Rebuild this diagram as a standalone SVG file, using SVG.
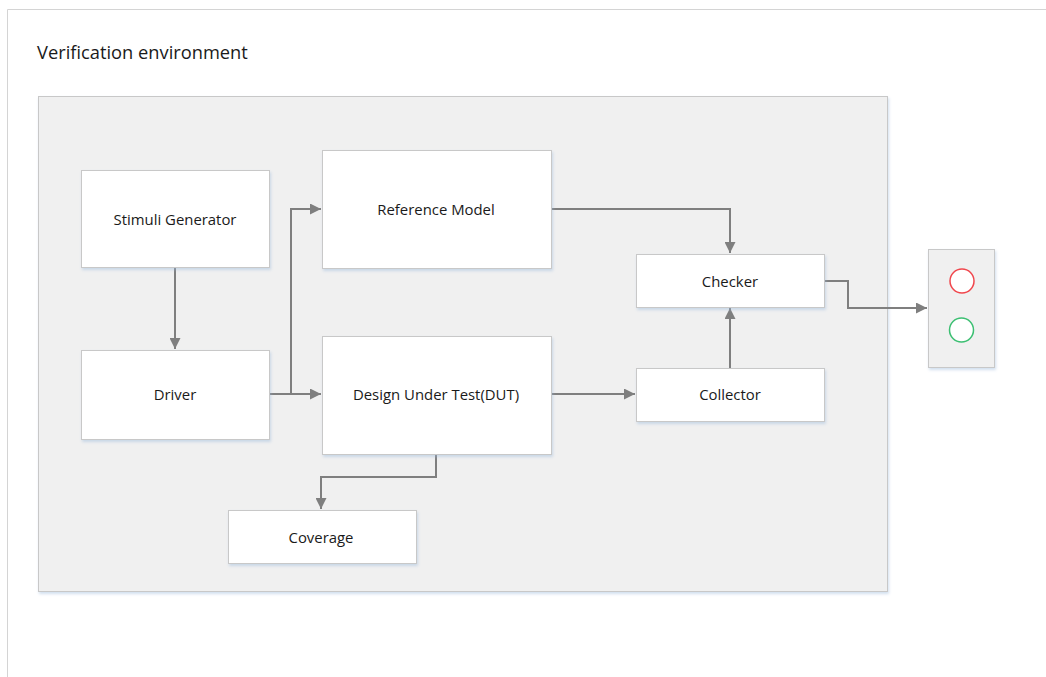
<svg xmlns="http://www.w3.org/2000/svg" width="1046" height="677" viewBox="0 0 1046 677">
  <style>
    .frame { fill: none; stroke: #d4d4d4; stroke-width: 1; }
    .env { fill: #f0f0f0; stroke: #c8c8c8; stroke-width: 1; filter: url(#shadow); }
    .box { fill: #ffffff; stroke: #c8c8c8; stroke-width: 1; filter: url(#shadow); }
    .lbl { font-family: "Open Sans", "Liberation Sans", sans-serif; font-size: 14.9px; fill: #1a1a1a; text-anchor: middle; dominant-baseline: central; }
    .title { font-family: "Open Sans", "Liberation Sans", sans-serif; font-size: 18.3px; fill: #1a1a1a; }
    .arrow { fill: none; stroke: #7f7f7f; stroke-width: 2; marker-end: url(#head); }
  </style>
  <defs>
    <filter id="shadow" x="-10%" y="-10%" width="120%" height="130%">
      <feDropShadow dx="1" dy="2" stdDeviation="1.5" flood-color="#9ab8dc" flood-opacity="0.45"/>
    </filter>
    <marker id="head" viewBox="0 0 10 10" refX="10" refY="5" markerWidth="5.5" markerHeight="5.5" orient="auto" markerUnits="strokeWidth">
      <path d="M0,0 L10,5 L0,10 Z" fill="#7f7f7f"/>
    </marker>
  </defs>

  <!-- page frame -->
  <rect x="0" y="0" width="1046" height="677" fill="#ffffff"/>
  <path d="M7.5,677 L7.5,9.5 L1046,9.5" class="frame"/>
  <text x="37" y="59" class="title">Verification environment</text>

  <!-- environment container -->
  <rect id="environment" x="38.5" y="96.5" width="849" height="495" class="env"/>

  <!-- connectors -->
  <g id="connectors">
    <path class="arrow" d="M175,268 L175,349"/>
    <path class="arrow" d="M269,394 L321,394"/>
    <path class="arrow" d="M269,394 L291,394 L291,209 L321,209"/>
    <path class="arrow" d="M551,209 L730,209 L730,253"/>
    <path class="arrow" d="M551,394 L635,394"/>
    <path class="arrow" d="M730,368 L730,308"/>
    <path class="arrow" d="M436,454 L436,477 L321,477 L321,509"/>
    <path class="arrow" d="M824,281 L848,281 L848,308 L927,308"/>
  </g>

  <!-- nodes -->
  <g id="stimuli-generator">
    <rect x="81.5" y="170.5" width="188" height="97" class="box"/>
    <text x="175" y="219" class="lbl">Stimuli Generator</text>
  </g>
  <g id="driver">
    <rect x="81.5" y="350.5" width="188" height="89" class="box"/>
    <text x="175" y="394" class="lbl">Driver</text>
  </g>
  <g id="reference-model">
    <rect x="322.5" y="150.5" width="229" height="118" class="box"/>
    <text x="436" y="209" class="lbl">Reference Model</text>
  </g>
  <g id="dut">
    <rect x="322.5" y="336.5" width="229" height="118" class="box"/>
    <text x="436" y="394" class="lbl">Design Under Test(DUT)</text>
  </g>
  <g id="checker">
    <rect x="636.5" y="254.5" width="188" height="53" class="box"/>
    <text x="730" y="281" class="lbl">Checker</text>
  </g>
  <g id="collector">
    <rect x="636.5" y="368.5" width="188" height="53" class="box"/>
    <text x="730" y="394" class="lbl">Collector</text>
  </g>
  <g id="coverage">
    <rect x="228.5" y="510.5" width="188" height="53" class="box"/>
    <text x="321" y="537" class="lbl">Coverage</text>
  </g>
  <g id="result-lights">
    <rect x="928.5" y="249.5" width="66" height="118" class="env"/>
    <circle cx="962" cy="281" r="12" fill="#ffffff" stroke="#f0474d" stroke-width="1.5"/>
    <circle cx="961.5" cy="330" r="12" fill="#ffffff" stroke="#3cbf72" stroke-width="1.5"/>
  </g>
</svg>
